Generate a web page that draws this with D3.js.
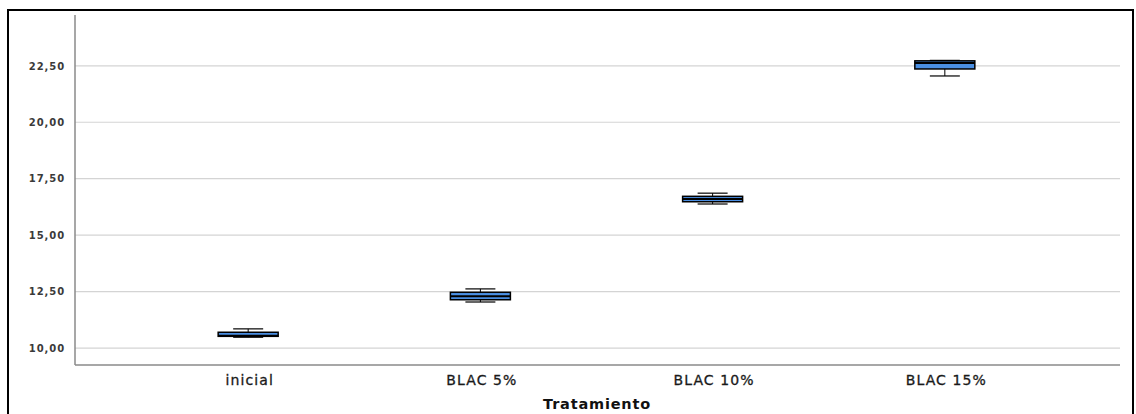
<!DOCTYPE html>
<html>
<head>
<meta charset="utf-8">
<script src="https://cdn.jsdelivr.net/npm/d3@7"></script>
<style>
  html, body { margin: 0; padding: 0; background: #fff; }
  svg { display: block; }
</style>
</head>
<body>
<svg id="chart" width="1136" height="414"></svg>
<script>
// Treatment groups and their box-plot summaries
const categories = ["inicial", "BLAC 5%", "BLAC 10%", "BLAC 15%"];
const whiskerLow  = [10.48, 12.04, 16.38, 22.05];
const quartile1   = [10.52, 12.14, 16.48, 22.36];
const medians     = [10.55, 12.30, 16.60, 22.62];
const quartile3   = [10.70, 12.47, 16.72, 22.72];
const whiskerHigh = [10.85, 12.62, 16.86, 22.74];
const yTicks = [10, 12.5, 15, 17.5, 20, 22.5];
const xTitle = "Tratamiento";

const svg = d3.select("#chart");
const plot = { left: 75, right: 1120, top: 15, bottom: 365 };

// Outer frame
svg.append("rect")
  .attr("x", 8).attr("y", 10)
  .attr("width", 1125).attr("height", 420)
  .attr("fill", "none").attr("stroke", "#000").attr("stroke-width", 2);

const x = d3.scalePoint().domain(categories)
  .range([plot.left, plot.right]).padding(0.75);
const y = d3.scaleLinear().domain([9.25, 24.75])
  .range([plot.bottom, plot.top]);

const fmt = v => d3.format(".2f")(v).replace(".", ",");

// Horizontal gridlines
svg.append("g").selectAll("line").data(yTicks).join("line")
  .attr("x1", plot.left).attr("x2", plot.right)
  .attr("y1", d => y(d)).attr("y2", d => y(d))
  .attr("stroke", "#d4d4d4").attr("stroke-width", 1.2);

// Y axis
const yAxis = svg.append("g")
  .attr("transform", `translate(${plot.left},0)`)
  .call(d3.axisLeft(y).tickValues(yTicks).tickFormat(fmt).tickSize(0).tickPadding(10));
yAxis.select(".domain").remove();
yAxis.selectAll("text")
  .attr("font-family", "DejaVu Sans, sans-serif")
  .attr("font-size", 10).attr("font-weight", "bold")
  .attr("letter-spacing", 0.9).attr("fill", "#3a3a3a");
svg.append("line")
  .attr("x1", plot.left).attr("x2", plot.left)
  .attr("y1", plot.top).attr("y2", plot.bottom)
  .attr("stroke", "#8a8a8a").attr("stroke-width", 1.5);

// X axis
const xAxis = svg.append("g")
  .attr("transform", `translate(0,${plot.bottom})`)
  .call(d3.axisBottom(x).tickSize(0).tickPadding(10));
xAxis.select(".domain").remove();
xAxis.selectAll("text")
  .attr("font-family", "DejaVu Sans, sans-serif")
  .attr("font-size", 14).attr("letter-spacing", 1.1)
  .attr("fill", "#1a1a1a").attr("stroke", "#1a1a1a").attr("stroke-width", 0.3);
svg.append("line")
  .attr("x1", plot.left).attr("x2", plot.right)
  .attr("y1", plot.bottom).attr("y2", plot.bottom)
  .attr("stroke", "#8a8a8a").attr("stroke-width", 1.5);

svg.append("text")
  .attr("x", 597)
  .attr("y", 409)
  .attr("text-anchor", "middle")
  .attr("font-family", "DejaVu Sans, sans-serif")
  .attr("font-size", 14.5).attr("font-weight", "bold")
  .attr("letter-spacing", 0.8).attr("fill", "#111")
  .text(xTitle);

// Boxes with whiskers
const boxW = 60, capW = 30;
const rows = categories.map((c, i) => ({
  c, lo: whiskerLow[i], q1: quartile1[i], med: medians[i], q3: quartile3[i], hi: whiskerHigh[i]
}));
const g = svg.append("g").selectAll("g").data(rows).join("g")
  .attr("transform", d => `translate(${x(d.c) - 1},0)`);

g.append("line").attr("x1", 0).attr("x2", 0)
  .attr("y1", d => y(d.hi)).attr("y2", d => y(d.lo))
  .attr("stroke", "#000").attr("stroke-width", 1);
g.append("line").attr("x1", -capW / 2).attr("x2", capW / 2)
  .attr("y1", d => y(d.hi)).attr("y2", d => y(d.hi))
  .attr("stroke", "#000").attr("stroke-width", 1.2);
g.append("line").attr("x1", -capW / 2).attr("x2", capW / 2)
  .attr("y1", d => y(d.lo)).attr("y2", d => y(d.lo))
  .attr("stroke", "#000").attr("stroke-width", 1.2);
g.append("rect")
  .attr("x", -boxW / 2).attr("width", boxW)
  .attr("y", d => y(d.q3)).attr("height", d => y(d.q1) - y(d.q3))
  .attr("fill", "#4a8fe3").attr("stroke", "#000").attr("stroke-width", 1.5);
g.append("line").attr("x1", -boxW / 2).attr("x2", boxW / 2)
  .attr("y1", d => y(d.med)).attr("y2", d => y(d.med))
  .attr("stroke", "#000").attr("stroke-width", 2);
</script>
</body>
</html>
